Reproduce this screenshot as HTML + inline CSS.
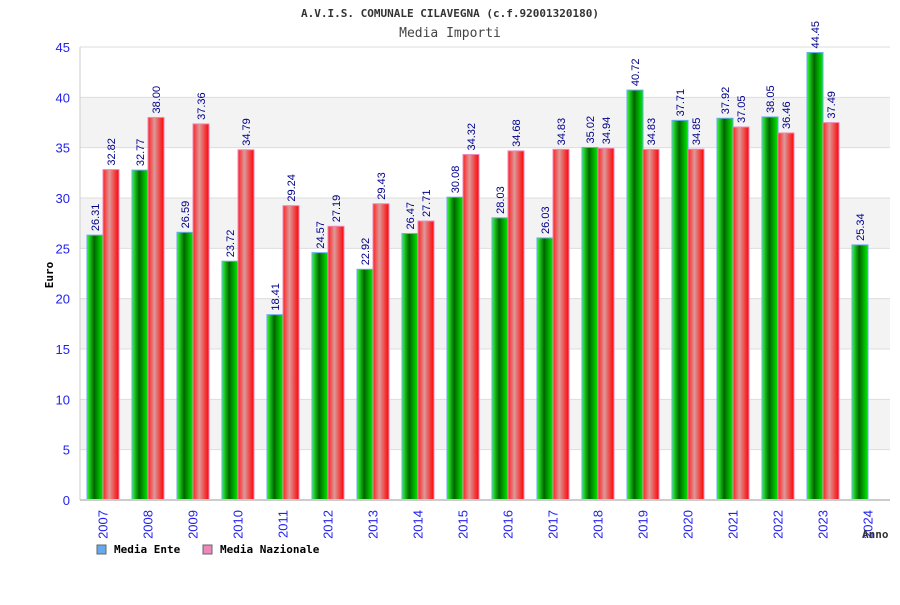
<!DOCTYPE html>
<html><head><meta charset="utf-8"><style>
body{margin:0;background:#fff;}
svg text{font-family:"Liberation Sans",sans-serif;}
svg text.mono{font-family:"DejaVu Sans Mono","Liberation Mono",monospace;}
</style></head><body>
<svg id="chart" width="900" height="600" xmlns="http://www.w3.org/2000/svg">
<defs>
<linearGradient id="gG" x1="0" x2="1" y1="0" y2="0"><stop offset="0" stop-color="#33ff33"/><stop offset="0.45" stop-color="#006600"/><stop offset="1" stop-color="#00ee00"/></linearGradient>
<linearGradient id="gR" x1="0" x2="1" y1="0" y2="0"><stop offset="0" stop-color="#ff2020"/><stop offset="0.4" stop-color="#dd9999"/><stop offset="1" stop-color="#ff0000"/></linearGradient>
</defs>
<text class="mono" x="450" y="17" text-anchor="middle" font-size="11" font-weight="bold" fill="#333">A.V.I.S. COMUNALE CILAVEGNA (c.f.92001320180)</text>
<text class="mono" x="450" y="37" text-anchor="middle" font-size="13" fill="#444">Media Importi</text>
<g id="grid"></g><g id="bars"></g><g id="axes"></g>
<text class="mono" x="53" y="275" transform="rotate(-90 53 275)" text-anchor="middle" font-size="11" font-weight="bold" fill="#000">Euro</text>
<text class="mono" x="862" y="538" font-size="11" font-weight="bold" fill="#333">Anno</text>
<rect x="97" y="545" width="9" height="9" fill="#66aaee" stroke="#666"/>
<text class="mono" x="114" y="553" font-size="11" font-weight="bold" fill="#000">Media Ente</text>
<rect x="203" y="545" width="9" height="9" fill="#ee88bb" stroke="#666"/>
<text class="mono" x="220" y="553" font-size="11" font-weight="bold" fill="#000">Media Nazionale</text>
</svg>
<script>
const categories=["2007","2008","2009","2010","2011","2012","2013","2014","2015","2016","2017","2018","2019","2020","2021","2022","2023","2024"];
const ente=[26.31,32.77,26.59,23.72,18.41,24.57,22.92,26.47,30.08,28.03,26.03,35.02,40.72,37.71,37.92,38.05,44.45,25.34];
const nazionale=[32.82,38.00,37.36,34.79,29.24,27.19,29.43,27.71,34.32,34.68,34.83,34.94,34.83,34.85,37.05,36.46,37.49,null];
const yTicks=[0,5,10,15,20,25,30,35,40,45];
const NS="http://www.w3.org/2000/svg";
const L=80,R=890,T=47,B=500,yMax=45;
const y=v=>B-(v/yMax)*(B-T);
const gw=(R-L)/categories.length;
const x=i=>L+i*gw;
function mk(tag,attrs,parent){const e=document.createElementNS(NS,tag);for(const k in attrs)e.setAttribute(k,attrs[k]);parent.appendChild(e);return e;}
const grid=document.getElementById('grid'),bars=document.getElementById('bars'),axes=document.getElementById('axes');
for(let i=0;i<yTicks.length-1;i++){
  if(i%2===1){const b=mk('rect',{x:L,y:y(yTicks[i+1]),width:R-L,height:y(yTicks[i])-y(yTicks[i+1]),fill:'#f3f3f3'},grid);
  
  }
}
yTicks.forEach(t=>{
  const l=mk('line',{x1:L,x2:R,y1:y(t),y2:y(t),stroke:'#dddddd'},grid);
  
  
  const tx=mk('text',{x:L-10,y:y(t)+5,'text-anchor':'end','font-size':13,fill:'#2222ee'},axes);
  tx.textContent=t;
  
  
});
const al=mk('line',{x1:L,x2:L,y1:T,y2:B,stroke:'#cccccc'},axes);


const bl=mk('line',{x1:L,x2:R,y1:B,y2:B,stroke:'#cccccc','stroke-width':2},axes);


function bar(v,bx,fill,stroke,name){
  if(v==null)return;
  const r=mk('rect',{x:bx,y:y(v),width:16,height:B-y(v),fill:fill,stroke:stroke,'stroke-width':1},bars);
  
  
  const lx=bx+12,ly=y(v)-4;
  const t=mk('text',{x:lx,y:ly,transform:`rotate(-90 ${lx} ${ly})`,'font-size':11,fill:'#000088'},bars);
  t.textContent=v.toFixed(2);
  
  
}
categories.forEach((c,i)=>{
  bar(ente[i],x(i)+7,'url(#gG)','#66aaee','bar-ente-'+c);
  bar(nazionale[i],x(i)+23,'url(#gR)','#ee88bb','bar-nazionale-'+c);
  const lx=x(i)+gw/2+5,ly=510;
  const t=mk('text',{x:lx,y:ly,transform:`rotate(-90 ${lx} ${ly})`,'text-anchor':'end','font-size':13,fill:'#2222ee'},axes);
  t.textContent=c;
  
  
});
</script>
</body></html>
